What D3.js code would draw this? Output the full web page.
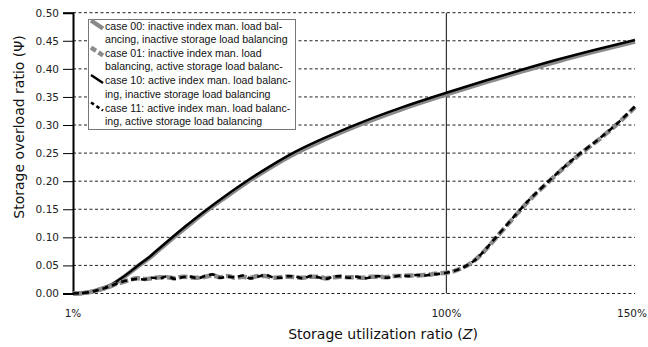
<!DOCTYPE html>
<html>
<head>
<meta charset="utf-8">
<script src="https://cdn.jsdelivr.net/npm/d3@7"></script>
<style>
  html, body { margin: 0; padding: 0; background: #fff; }
  svg { display: block; }
</style>
</head>
<body>
<svg id="chart" width="648" height="347"></svg>
<script>
// Storage utilization ratio Z (%) and storage overload ratio Psi per case
const zSolid = [1, 3, 5, 8, 11, 14, 18.5, 21.4, 24, 27.5, 31, 36, 41, 47, 53, 60, 68, 77, 88, 100, 110, 120, 130, 140, 150];
const case10 = [0, 0.0005, 0.002, 0.007, 0.015, 0.028, 0.051, 0.066, 0.081, 0.101, 0.1205, 0.147, 0.172, 0.200, 0.2255, 0.2525, 0.278, 0.3035, 0.331, 0.3575, 0.3785, 0.3985, 0.4175, 0.435, 0.4515];
const case00 = [0, 0.0005, 0.002, 0.007, 0.014, 0.027, 0.050, 0.064, 0.079, 0.099, 0.118, 0.145, 0.1695, 0.1975, 0.223, 0.2497, 0.275, 0.3005, 0.328, 0.3545, 0.3755, 0.3955, 0.4145, 0.432, 0.4485];

const zDashed = [1, 3, 5, 8, 11, 12, 14, 16, 18, 20, 22, 24, 26, 28, 30, 32, 34, 36, 38, 40, 42, 44, 46, 48, 50,
  52, 54, 56, 58, 60, 62, 64, 66, 68, 70, 72, 74, 76, 78, 80, 82, 84, 86, 88, 90, 92, 94, 96, 98, 100,
  102, 104, 106, 108, 110, 113, 116, 119, 122, 126, 130, 135, 140, 145, 150];
const case11 = [0, 0.0005, 0.002, 0.007, 0.013, 0.016, 0.021, 0.024, 0.026, 0.025, 0.028, 0.027, 0.031, 0.026, 0.029,
  0.030, 0.027, 0.031, 0.034, 0.028, 0.030, 0.029, 0.032, 0.027, 0.030, 0.033, 0.029, 0.028, 0.031, 0.030,
  0.027, 0.031, 0.029, 0.026, 0.030, 0.031, 0.028, 0.030, 0.027, 0.029, 0.031, 0.028, 0.030, 0.032, 0.031,
  0.033, 0.032, 0.034, 0.035, 0.037, 0.040, 0.045, 0.052, 0.062, 0.076, 0.099, 0.122, 0.145, 0.167, 0.193,
  0.218, 0.247, 0.273, 0.301, 0.333];
const case01 = [0, 0.0005, 0.002, 0.007, 0.013, 0.016, 0.020, 0.024, 0.027, 0.026, 0.027, 0.029, 0.029, 0.027, 0.030,
  0.029, 0.028, 0.030, 0.032, 0.029, 0.031, 0.028, 0.030, 0.028, 0.031, 0.031, 0.028, 0.029, 0.030, 0.029,
  0.028, 0.030, 0.030, 0.027, 0.029, 0.030, 0.029, 0.029, 0.028, 0.030, 0.030, 0.029, 0.031, 0.031, 0.032,
  0.032, 0.033, 0.034, 0.036, 0.037, 0.040, 0.045, 0.052, 0.062, 0.075, 0.098, 0.121, 0.144, 0.166, 0.192,
  0.217, 0.246, 0.272, 0.300, 0.332];

const yTicks = [0, 0.05, 0.10, 0.15, 0.20, 0.25, 0.30, 0.35, 0.40, 0.45, 0.50];
const xTicks = [1, 100, 150];
const legendLines = [
  ["case 00: inactive index man. load bal-", "ancing, inactive storage load balancing"],
  ["case 01: inactive index man. load", "balancing, active storage load balanc-"],
  ["case 10: active index man. load balanc-", "ing, inactive storage load balancing"],
  ["case 11: active index man. load balanc-", "ing, active storage load balancing"]
];

const svg = d3.select("#chart");
const x = d3.scaleLinear().domain([1, 150]).range([73, 635]);
const y = d3.scaleLinear().domain([0, 0.5]).range([293.5, 12.7]);

const FONT = "DejaVu Sans, Verdana, sans-serif";
const GRAY = "#8a8a8a";

// horizontal dashed grid
svg.append("g").selectAll("line").data(yTicks).join("line")
  .attr("x1", x(1)).attr("x2", x(150))
  .attr("y1", d => y(d)).attr("y2", d => y(d))
  .attr("stroke", "#222").attr("stroke-width", 1)
  .attr("stroke-dasharray", "3,2.5");

// y axis with outward ticks
const yAxis = d3.axisLeft(y).tickValues(yTicks).tickFormat(d3.format(".2f")).tickSize(10).tickPadding(4);
const gy = svg.append("g").attr("transform", `translate(${x(1)},0)`).call(yAxis);
gy.select(".domain").attr("stroke", "#000").attr("stroke-width", 2);
gy.selectAll(".tick line").attr("stroke", "#000").attr("stroke-width", 1);
gy.selectAll(".tick text").attr("font-family", FONT).attr("font-size", 10.5).attr("fill", "#222");

// x tick labels (last one kept inside the frame)
svg.append("g").selectAll("text").data(xTicks).join("text")
  .attr("x", d => d === 150 ? 647 : x(d)).attr("y", 317)
  .attr("text-anchor", d => d === 150 ? "end" : "middle")
  .attr("font-family", FONT).attr("font-size", 10.5).attr("fill", "#222")
  .text(d => d + "%");

// reference line at 100 %
svg.append("line")
  .attr("x1", x(100)).attr("x2", x(100))
  .attr("y1", y(0)).attr("y2", y(0.5))
  .attr("stroke", "#333").attr("stroke-width", 1.2);

// series styles, in legend order
const styles = {
  c00: {color: GRAY, w: 4.5, dash: null, legendDash: null},
  c01: {color: GRAY, w: 4.5, dash: "9,3", legendDash: "6,3"},
  c10: {color: "#000", w: 2.5, dash: null, legendDash: null},
  c11: {color: "#000", w: 2.6, dash: "6,4", legendDash: "3.5,3"}
};
const line = (xs) => d3.line().x((d, i) => x(xs[i])).y(d => y(d)).curve(d3.curveMonotoneX);
const drawOrder = [
  {vals: case00, xs: zSolid, st: styles.c00},
  {vals: case10, xs: zSolid, st: styles.c10},
  {vals: case01, xs: zDashed, st: styles.c01},
  {vals: case11, xs: zDashed, st: styles.c11}
];
drawOrder.forEach(s => {
  svg.append("path")
    .attr("d", line(s.xs)(s.vals))
    .attr("fill", "none")
    .attr("stroke", s.st.color)
    .attr("stroke-width", s.st.w)
    .attr("stroke-dasharray", s.st.dash);
});

// legend
const lg = svg.append("g");
lg.append("rect")
  .attr("x", 88.5).attr("y", 19.5).attr("width", 207).attr("height", 110)
  .attr("fill", "#fff").attr("stroke", "#777").attr("stroke-width", 1);
const legendStyles = [styles.c00, styles.c01, styles.c10, styles.c11];
const entryTop = [29.5, 56.5, 84, 111.5];
legendStyles.forEach((st, i) => {
  const by = entryTop[i];
  lg.append("line")
    .attr("x1", 91).attr("y1", by - 9).attr("x2", 103).attr("y2", by - 1)
    .attr("stroke", st.color).attr("stroke-width", st.w)
    .attr("stroke-dasharray", st.legendDash);
  legendLines[i].forEach((t, j) => {
    lg.append("text")
      .attr("x", 105).attr("y", by + j * 13.5)
      .attr("font-family", "Liberation Sans, Arial, sans-serif").attr("font-size", 10.6).attr("fill", "#111")
      .text(t);
  });
});

// axis titles
svg.append("text")
  .attr("transform", "translate(24,127) rotate(-90)")
  .attr("text-anchor", "middle")
  .attr("font-family", FONT).attr("font-size", 14).attr("fill", "#111")
  .text("Storage overload ratio (Ψ)");

const xt = svg.append("text")
  .attr("x", 383).attr("y", 339)
  .attr("text-anchor", "middle")
  .attr("font-family", FONT).attr("font-size", 14).attr("fill", "#111");
xt.append("tspan").text("Storage utilization ratio (");
xt.append("tspan").attr("font-style", "italic").text("Z");
xt.append("tspan").text(")");
</script>
</body>
</html>
